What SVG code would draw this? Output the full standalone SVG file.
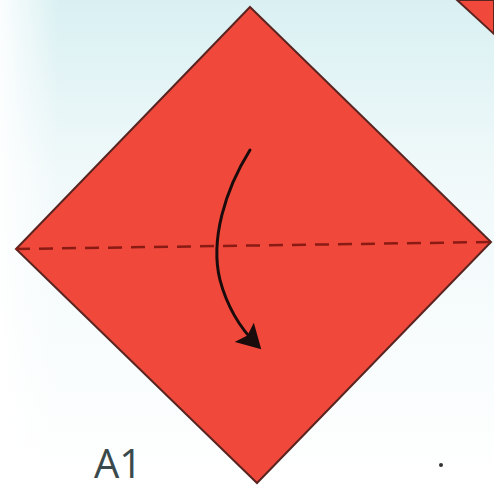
<svg xmlns="http://www.w3.org/2000/svg" width="494" height="491" viewBox="0 0 494 491">
  <style>
    .paper { fill: #f0493b; stroke: #5a2420; stroke-width: 2; stroke-linejoin: miter; }
    .fold { stroke: #8a1a14; stroke-width: 2.5; stroke-dasharray: 14 9; fill: none; }
    .arrow { stroke: #1a0c0c; stroke-width: 3; fill: none; stroke-linecap: round; }
    .label { font-family: "Open Sans", "Liberation Sans", sans-serif; font-size: 40px; fill: #3a4a4c; }
  </style>
  <defs>
    <linearGradient id="bg" x1="0" y1="0" x2="0" y2="1">
      <stop offset="0" stop-color="#d9f0f2"/>
      <stop offset="0.35" stop-color="#f0f9fa"/>
      <stop offset="1" stop-color="#ffffff"/>
    </linearGradient>
    <linearGradient id="lf" x1="0" y1="0" x2="1" y2="0">
      <stop offset="0" stop-color="#ffffff" stop-opacity="0.9"/>
      <stop offset="0.12" stop-color="#ffffff" stop-opacity="0"/>
    </linearGradient>
    <marker id="head" markerWidth="9" markerHeight="9" refX="6" refY="4.5" orient="auto" markerUnits="strokeWidth">
      <path d="M0,0 L8,4.5 L0,9 L1.5,4.5 Z" fill="#1a0c0c"/>
    </marker>
  </defs>
  <rect width="494" height="491" fill="url(#bg)"/>
  <rect width="494" height="491" fill="url(#lf)"/>
  <g id="corner-fragment">
    <polygon points="457,0 494,0 494,34" class="paper"/>
  </g>
  <g id="square">
    <polygon points="250,7 491,242 257,483 16,249" class="paper"/>
  </g>
  <g id="connectors">
    <line x1="16" y1="249" x2="491" y2="242" class="fold"/>
    <path d="M250,150 C225,190 210,240 220,280 C228,310 242,330 257,345" class="arrow" marker-end="url(#head)"/>
  </g>
  <g id="label">
    <text x="94" y="478" class="label">A1</text>
  </g>
  <circle cx="441" cy="465" r="2" fill="#333"/>
</svg>
